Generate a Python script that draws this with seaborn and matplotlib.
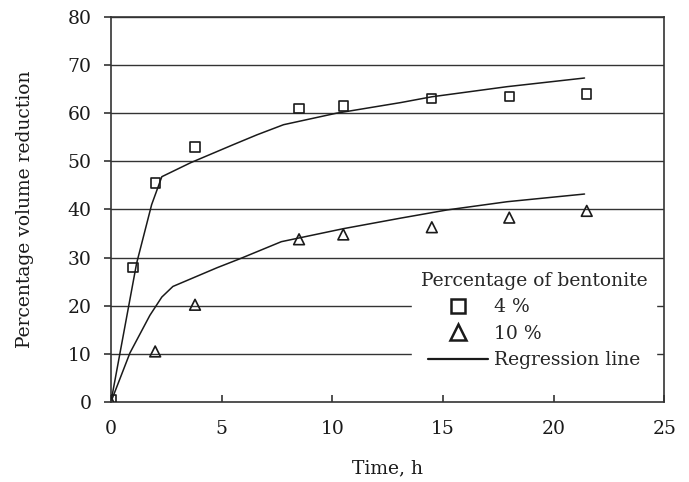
import matplotlib
matplotlib.use("Agg")
import matplotlib.pyplot as plt
from matplotlib.lines import Line2D
import pandas as pd
import seaborn as sns


### Data ###

time_points = [0, 1.0, 2.0, 3.8, 8.5, 10.5, 14.5, 18.0, 21.5]
reduction_4 = [0.5, 28.0, 45.5, 53.0, 61.0, 61.5, 63.0, 63.5, 64.0]

time_points_10 = [0, 2.0, 3.8, 8.5, 10.5, 14.5, 18.0, 21.5]
reduction_10 = [0.0, 10.5, 20.2, 33.8, 34.8, 36.3, 38.3, 39.7]

reg_time_4 = [0, 1.16, 1.84, 2.3, 3.6, 5.5, 6.6, 7.8, 10.2, 13.1, 14.5, 17.9, 21.4]
reg_value_4 = [0, 28.8, 41.0, 46.8, 49.7, 53.4, 55.5, 57.6, 60.0, 62.2, 63.4, 65.5, 67.3]

reg_time_10 = [0, 0.86, 1.76, 2.3, 2.8, 4.8, 5.8, 7.7, 10.5, 13.1, 15.2, 17.9, 21.4]
reg_value_10 = [0, 10.2, 18.0, 21.8, 24.0, 27.9, 29.7, 33.3, 36.0, 38.2, 39.9, 41.6, 43.2]

x_ticks = [0, 5, 10, 15, 20, 25]
y_ticks = [0, 10, 20, 30, 40, 50, 60, 70, 80]


### Plot ###

sns.set_style("ticks")
plt.rcParams["font.family"] = ["DejaVu Serif"]
plt.rcParams["font.size"] = 13.5

ink = "#1a1a1a"

points_4 = pd.DataFrame({"time": time_points, "value": reduction_4})
points_10 = pd.DataFrame({"time": time_points_10, "value": reduction_10})
line_4 = pd.DataFrame({"time": reg_time_4, "value": reg_value_4})
line_10 = pd.DataFrame({"time": reg_time_10, "value": reg_value_10})

fig = plt.figure(figsize=(6.89, 4.82), dpi=100)
ax = fig.add_axes([0.161, 0.166, 0.803, 0.799])

for y in y_ticks[1:]:                                # Horizontal grid, drawn under the marks.
    ax.axhline(y, color="#333333", linewidth=1.0, zorder=0)

sns.lineplot(data=line_4, x="time", y="value", ax=ax, sort=False,
             estimator=None, color=ink, linewidth=1.1, zorder=2)
sns.lineplot(data=line_10, x="time", y="value", ax=ax, sort=False,
             estimator=None, color=ink, linewidth=1.1, zorder=2)

sns.scatterplot(data=points_4, x="time", y="value", ax=ax, marker="s", s=45,
                facecolors="none", edgecolor=ink, linewidth=1.2, zorder=3)
sns.scatterplot(data=points_10, x="time", y="value", ax=ax, marker="^", s=60,
                facecolors="none", edgecolor=ink, linewidth=1.2, zorder=3)

ax.set_xlim(0, 25)
ax.set_ylim(0, 80)
ax.set_xticks(x_ticks)
ax.set_yticks(y_ticks)

for side in ["left", "right", "top", "bottom"]:
    ax.spines[side].set_color("#333333")
    ax.spines[side].set_linewidth(1.2)

ax.tick_params(axis="x", direction="in", length=5, width=1.2, pad=13, colors="#333333",
               labelcolor=ink)
ax.tick_params(axis="y", direction="out", length=5, width=1.2, pad=9, colors="#333333",
               labelcolor=ink)

ax.set_xlabel("Time, h", labelpad=15, color=ink)
ax.set_ylabel("Percentage volume reduction", labelpad=24, color=ink)

handles = [
    Line2D([], [], linestyle="none", marker="s", markersize=10, markerfacecolor="none",
           markeredgecolor=ink, markeredgewidth=1.8),
    Line2D([], [], linestyle="none", marker="^", markersize=12, markerfacecolor="none",
           markeredgecolor=ink, markeredgewidth=1.8),
    Line2D([], [], color=ink, linewidth=1.6),
]
leg = ax.legend(handles, ["4 %", "10 %", "Regression line"],
                title="Percentage of bentonite", loc="upper right",
                bbox_to_anchor=(0.985, 0.36), frameon=True, fancybox=False,
                handlelength=3.2, handletextpad=0.3, labelspacing=0.45,
                borderpad=0.45, borderaxespad=0.0, fontsize=13.5, title_fontsize=13.5)
leg.get_frame().set_edgecolor("white")
leg.get_frame().set_facecolor("white")
leg.get_frame().set_alpha(1)
leg.set_zorder(5)

fig.savefig("out.png", dpi=100)
